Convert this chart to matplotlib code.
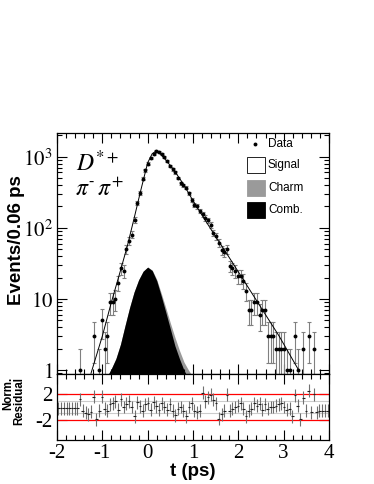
import numpy as np
import matplotlib.pyplot as plt
from matplotlib.patches import Rectangle
from matplotlib.ticker import MultipleLocator, FixedLocator, LogLocator, NullFormatter, FuncFormatter

plt.rcParams['mathtext.fontset'] = 'stix'
plt.rcParams['axes.unicode_minus'] = False

# binning of the decay-time histogram
t_lo, t_hi, bin_w = -2.0, 4.0, 0.06

# events per bin (0 = empty bin, not drawn on log scale)
counts = [0, 0, 0, 0, 0, 0, 0, 0, 1, 0,
          0, 0, 0, 3, 0, 1, 5, 2, 3, 9,
          9, 10, 17, 27, 25, 50, 66, 80, 130, 225,
          310, 490, 640, 800, 950, 1100, 1190, 1170, 1100, 980,
          860, 740, 660, 600, 500, 425, 395, 365, 305, 245,
          212, 200, 172, 155, 138, 128, 110, 85, 76, 62,
          49, 45, 50, 29, 27, 25, 21, 21, 18, 13,
          7, 7, 9, 9, 6, 7, 7, 3, 3, 3,
          2, 2, 2, 2, 1, 1, 0, 3, 1, 0,
          2, 0, 3, 0, 2, 0, 0, 0, 0, 0]

# normalised residuals per bin
resid = [-0.2, -0.2, -0.2, -0.2, -0.2, -0.2, -0.2, -0.2, 1.2, -0.6,
         -0.9, -1.1, -0.7, 1.6, -1.9, -0.6, 1.6, -0.3, -0.6, 0.4,
         0.6, 0.9, -0.4, 1.2, 0.0, 0.5, 0.9, 0.0, -1.4, 0.7,
         0.1, -0.6, 0.4, 0.6, -0.4, 0.7, 0.1, -0.4, 0.6, 0.0,
         -0.4, 0.4, -0.6, -1.3, -0.3, 0.0, -0.6, -1.4, 0.0, 0.6,
         -0.6, -0.8, -0.6, 2.2, 0.9, 1.5, 1.9, 1.1, 0.6, -1.8,
         -1.1, -0.6, 1.9, -0.6, -0.3, 0.0, 0.2, 0.6, -0.3, -1.4,
         -0.6, -0.3, 0.6, 0.2, 0.5, -0.4, 0.4, -0.3, 0.0, 0.0,
         0.2, 0.4, 0.6, 0.0, -0.4, -0.3, -1.4, 1.8, 0.2, -1.9,
         1.4, -0.6, 2.5, -0.8, 2.0, -0.8, -0.6, -0.6, -0.6, -0.6]

# total fit curve
fit_t = [-1.25, -1.0, -0.8, -0.6, -0.45, -0.3, -0.15, 0.0, 0.1, 0.17,
         0.25, 0.4, 0.6, 0.8, 1.0, 1.2, 1.5, 1.7, 2.0, 2.3, 2.6, 2.9, 3.1, 3.35]
fit_v = [0.9, 3.0, 9, 25, 55, 135, 340, 820, 1100, 1180,
         1140, 900, 620, 400, 240, 150, 75, 48, 24, 12, 6, 3, 1.8, 0.95]

# combinatorial background
comb_t = [-0.9, -0.8, -0.7, -0.6, -0.5, -0.4, -0.3, -0.2, -0.1, 0.0,
          0.1, 0.2, 0.3, 0.4, 0.5, 0.6, 0.7, 0.8, 0.9]
comb_v = [0.8, 1.05, 1.45, 2.3, 4.2, 7.5, 12.5, 18.5, 24.5, 28,
          25, 18, 11, 6.5, 3.8, 2.2, 1.45, 1.0, 0.75]

# charm + combinatorial
charm_t = [-0.9, -0.8, -0.7, -0.6, -0.5, -0.4, -0.3, -0.2, -0.1, 0.0,
           0.1, 0.2, 0.3, 0.4, 0.5, 0.6, 0.7, 0.8, 0.9, 1.0]
charm_v = [0.8, 1.05, 1.45, 2.3, 4.2, 7.5, 12.5, 18.5, 24.5, 28,
           25.5, 18.8, 12, 7.5, 4.6, 2.9, 1.9, 1.3, 1.0, 0.8]

counts = np.array(counts, dtype=float)
resid = np.array(resid)
centers = t_lo + bin_w * (np.arange(len(counts)) + 0.5)

serif = 'Liberation Serif'
sans = 'Liberation Sans'

fig = plt.figure(figsize=(3.74, 4.84), dpi=100)
W, H = 374.0, 484.0
ax = fig.add_axes([57 / W, 1 - 374 / H, 272 / W, 241 / H])
axr = fig.add_axes([57 / W, 1 - 440 / H, 272 / W, 66 / H])

# main panel
ax.fill_between(charm_t, 0.1, charm_v, color='#9a9a9a', lw=0)
ax.fill_between(comb_t, 0.1, comb_v, color='black', lw=0)
m = counts > 0
ax.errorbar(centers[m], counts[m], yerr=np.sqrt(counts[m]), fmt='none',
            ecolor='#808080', elinewidth=0.8, capsize=1.5, capthick=0.8)
ax.plot(fit_t, fit_v, color='black', lw=0.7)
ax.plot(centers[m], counts[m], 'o', color='black', ms=2.8, mew=0)

ax.set_yscale('log')
ax.set_xlim(t_lo, t_hi)
ax.set_ylim(0.88, 2150)
ax.xaxis.set_major_locator(MultipleLocator(1))
ax.xaxis.set_minor_locator(MultipleLocator(0.2))
ax.yaxis.set_major_locator(FixedLocator([1, 10, 100, 1000]))
ax.yaxis.set_minor_locator(LogLocator(base=10, subs=np.arange(2, 10)))
ax.yaxis.set_minor_formatter(NullFormatter())
ylabels = {1: '$1$', 10: '$10$', 100: '$10^{2}$', 1000: '$10^{3}$'}
ax.yaxis.set_major_formatter(FuncFormatter(lambda v, p: ylabels.get(int(round(v)), '')))
ax.tick_params(axis='x', labelbottom=False)
ax.tick_params(which='both', direction='in', top=True, right=True)
ax.tick_params(which='major', length=7, width=0.8, labelsize=15, pad=3)
ax.tick_params(which='minor', length=3.5, width=0.8)
for s in ax.spines.values():
    s.set_linewidth(0.9)

ax.text(0.07, 0.84, '$D^{*+}$', transform=ax.transAxes, fontsize=17,
        ha='left', va='baseline')
ax.text(0.065, 0.74, '$\\pi^{\u2010}\\,\\pi^{+}$', transform=ax.transAxes, fontsize=17,
        ha='left', va='baseline')

# legend drawn by hand
def ax_xy(px, py):
    return (px - 57) / 272.0, (374 - py) / 241.0

lx, ly = ax_xy(255, 144)
ax.plot([lx], [ly], 'o', color='black', ms=2.8, mew=0, transform=ax.transAxes, clip_on=False)
tx, _ = ax_xy(268, 0)
ax.text(tx, ly, 'Data', transform=ax.transAxes, fontsize=8.5, family=sans, va='center')
boxes = [('Signal', 'white', 165.5), ('Charm', '#9a9a9a', 188), ('Comb.', 'black', 210)]
for name, col, cy in boxes:
    x0, y0 = ax_xy(247, cy + 8)
    x1, y1 = ax_xy(265, cy - 8)
    ec = 'black' if col == 'white' else col
    ax.add_patch(Rectangle((x0, y0), x1 - x0, y1 - y0, transform=ax.transAxes,
                           facecolor=col, edgecolor=ec, lw=0.6))
    ax.text(tx, ax_xy(0, cy)[1], name, transform=ax.transAxes, fontsize=8.5,
            family=sans, va='center')

# residual panel
axr.axhline(1, color='#cccccc', lw=0.8)
axr.axhline(-1, color='#cccccc', lw=0.8)
axr.axhline(2, color='red', lw=0.9)
axr.axhline(-2, color='red', lw=0.9)
axr.errorbar(centers, resid, yerr=1.0, fmt='none', ecolor='#707070', elinewidth=0.8)
axr.errorbar(centers, resid, xerr=bin_w / 2, fmt='none', ecolor='#202020', elinewidth=0.8)
axr.set_xlim(t_lo, t_hi)
axr.set_ylim(-5.1, 5.1)
axr.xaxis.set_major_locator(MultipleLocator(1))
axr.xaxis.set_minor_locator(MultipleLocator(0.2))
axr.yaxis.set_major_locator(FixedLocator([-2, 2]))
axr.tick_params(which='both', direction='in', top=True, right=True)
axr.tick_params(which='major', length=7, width=0.8, labelsize=15, pad=3)
axr.tick_params(which='minor', length=3.5, width=0.8)
for lab in axr.get_xticklabels() + axr.get_yticklabels():
    lab.set_family(serif)
for s in axr.spines.values():
    s.set_linewidth(0.9)

fig.text(17 / W, 1 - 240 / H, 'Events/0.06 ps', rotation=90, family=sans,
         fontweight='bold', fontsize=13.5, ha='center', va='center')
fig.text(193 / W, 1 - 472 / H, 't (ps)', family=sans, fontweight='bold',
         fontsize=13.5, ha='center', va='center')
fig.text(8.5 / W, 1 - 377 / H, 'Norm.', rotation=90, family=sans,
         fontweight='bold', fontsize=8.3, ha='center', va='top')
fig.text(19.5 / W, 1 - 377 / H, 'Residual', rotation=90, family=sans,
         fontweight='bold', fontsize=8.3, ha='center', va='top')

fig.savefig('out.png', dpi=100)
